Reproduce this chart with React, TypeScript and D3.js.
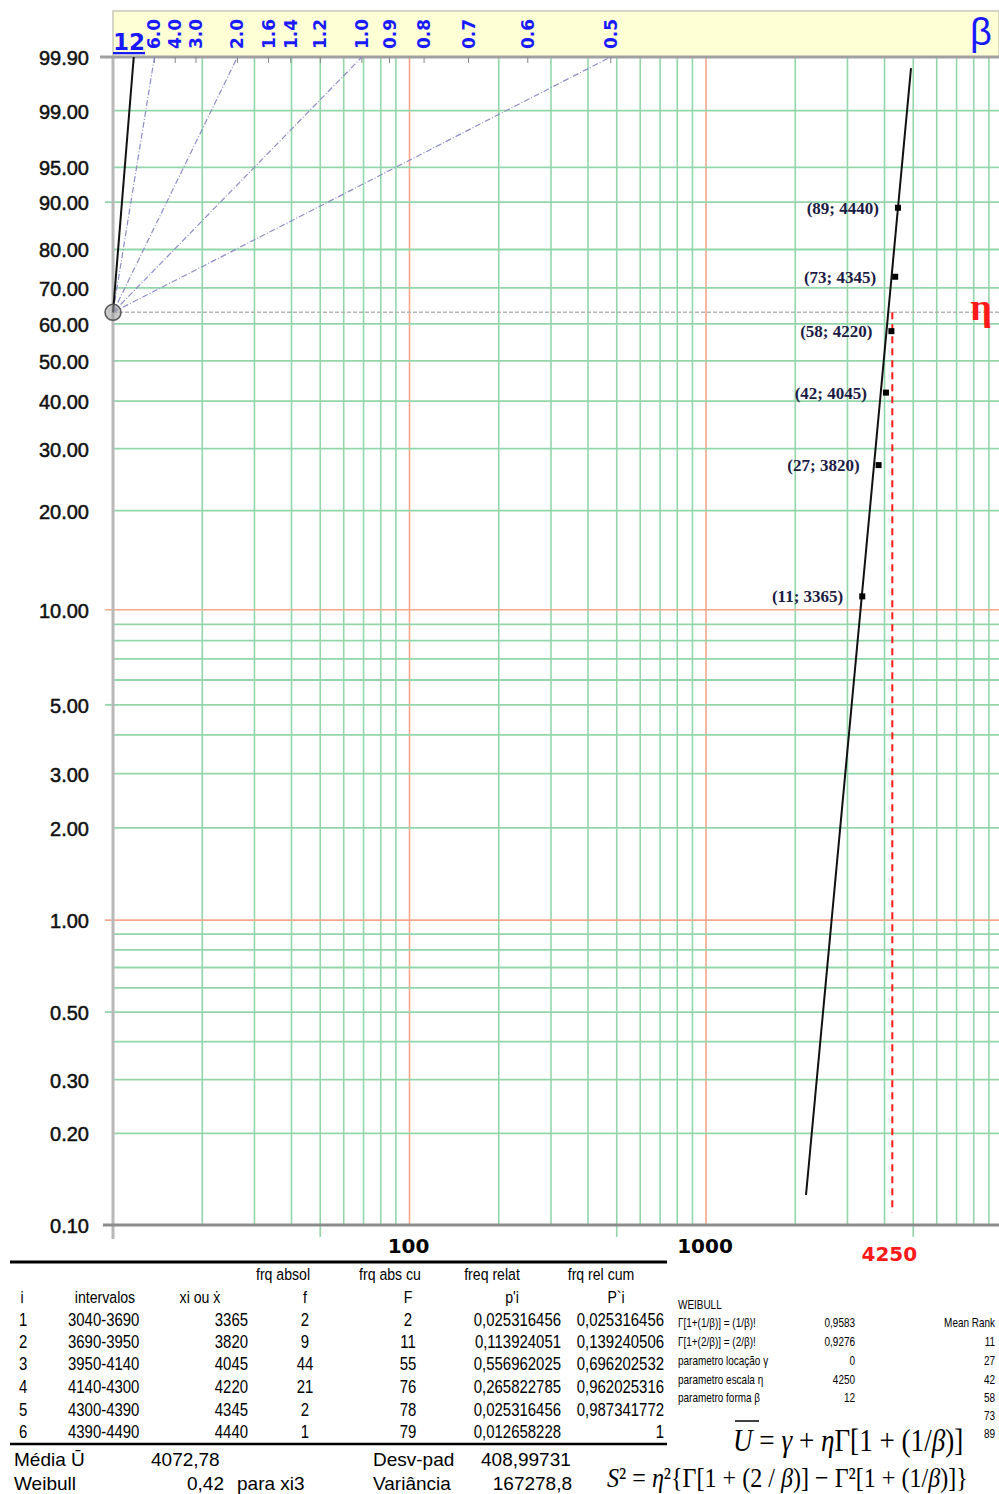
import React from 'react';
import * as d3 from 'd3';

const W = 999;
const H = 1494;

// ---- probability-paper grid definitions ----
const xRedGrid = [100, 1000];
const xGreenGrid = [20, 30, 40, 50, 60, 70, 80, 90, 200, 300, 400, 500, 600, 700, 800, 900, 2000, 3000, 4000, 5000, 6000, 7000, 8000, 9000];
const xTicksBelow = [50, 500, 5000];
const xLabels = [100, 1000];

const yLabelTicks = [99.9, 99, 95, 90, 80, 70, 60, 50, 40, 30, 20, 10, 5, 3, 2, 1, 0.5, 0.3, 0.2, 0.1];
const yLabelText = ['99.90', '99.00', '95.00', '90.00', '80.00', '70.00', '60.00', '50.00', '40.00', '30.00', '20.00', '10.00', '5.00', '3.00', '2.00', '1.00', '0.50', '0.30', '0.20', '0.10'];
const yGreenGrid = [99, 95, 90, 80, 70, 60, 50, 40, 30, 20, 9, 8, 7, 6, 5, 4, 3, 2, 0.9, 0.8, 0.7, 0.6, 0.5, 0.4, 0.3, 0.2];
const yRedGrid = [10, 1];
const yLeftTicks = [90, 5, 0.5];

// ---- beta (shape) scale ----
const betaTicks = [6, 4, 3, 2, 1.6, 1.4, 1.2, 1.0, 0.9, 0.8, 0.7, 0.6, 0.5];
const betaLabels = ['6.0', '4.0', '3.0', '2.0', '1.6', '1.4', '1.2', '1.0', '0.9', '0.8', '0.7', '0.6', '0.5'];
const betaDashed = [6, 2, 1, 0.5];
const betaFit = 12;
const pivotX = 10;
const pivotP = 63.212;

// ---- data ----
const meanRank = [11, 27, 42, 58, 73, 89];
const xiValues = [3365, 3820, 4045, 4220, 4345, 4440];
const eta = 4250;
const etaLineBottomP = 0.11;
const fitLine = [
  { x: 2174, p: 0.1255 },
  { x: 4914, p: 99.826 },
];

// ---- table ----
const rowI = ['1', '2', '3', '4', '5', '6'];
const intervals = ['3040-3690', '3690-3950', '3950-4140', '4140-4300', '4300-4390', '4390-4490'];
const fAbs = [2, 9, 44, 21, 2, 1];
const FCum = [2, 11, 55, 76, 78, 79];
const pRel = ['0,025316456', '0,113924051', '0,556962025', '0,265822785', '0,025316456', '0,012658228'];
const PCum = ['0,025316456', '0,139240506', '0,696202532', '0,962025316', '0,987341772', '1'];

const weibullLabels = ['Γ[1+(1/β)] = (1/β)!', 'Γ[1+(2/β)] = (2/β)!', 'parametro locação γ', 'parametro escala η', 'parametro forma β'];
const weibullValues = ['0,9583', '0,9276', '0', '4250', '12'];

const yt = (p: number) => Math.log(-Math.log(1 - p / 100));

const xScale = d3.scaleLog().domain([10, 10000]).range([113, 1002.5]);
const yScale = d3.scaleLinear().domain([yt(99.9), yt(0.1)]).range([57, 1225]);
const Y = (p: number) => yScale(yt(p));

const betaX = (b: number) => xScale(pivotX * Math.exp(yt(99.9) / b));

const GREEN = '#93d6aa';
const RED = '#f6a68c';
const SANS = "'Liberation Sans', Arial, sans-serif";
const SERIF = "'Liberation Serif', 'Times New Roman', serif";
const DJ = "'DejaVu Sans', Verdana, sans-serif";

const NT = ({ x, y, anchor = 'start', size = 17, children, fill = '#000' }: any) => (
  <text
    transform={`translate(${x},${y}) scale(0.83,1)`}
    textAnchor={anchor}
    fontSize={size}
    fontFamily={SANS}
    fill={fill}
  >
    {children}
  </text>
);

export default function App() {
  const left = xScale(10);
  const right = W;
  const top = Y(99.9);
  const bottom = Y(0.1);
  const px = xScale(pivotX);
  const py = Y(pivotP);

  const rowY = [1320, 1342, 1364, 1387, 1410, 1432];
  const wRowY = [1323, 1342, 1361, 1380, 1398];
  const rankY = [1342, 1361, 1380, 1398, 1416, 1434];

  const fitPath = d3.line<{ x: number; p: number }>()
    .x((d) => xScale(d.x))
    .y((d) => Y(d.p))(fitLine);

  return (
    <svg width={W} height={H} style={{ position: 'absolute', left: 0, top: 0, background: '#fff' }}>
      {/* beta band */}
      <rect x={left} y={11} width={right - left} height={top - 11} fill="#ffffd6" stroke="#c8c8bc" strokeWidth={1.5} />

      {/* vertical grid */}
      {xGreenGrid.map((v) => (
        <line key={'xg' + v} x1={xScale(v)} x2={xScale(v)} y1={top} y2={bottom} stroke={GREEN} strokeWidth={1.6} />
      ))}
      {xRedGrid.map((v) => (
        <line key={'xr' + v} x1={xScale(v)} x2={xScale(v)} y1={top} y2={bottom} stroke={RED} strokeWidth={1.6} />
      ))}
      {xTicksBelow.map((v) => (
        <line key={'xt' + v} x1={xScale(v)} x2={xScale(v)} y1={bottom} y2={bottom + 12} stroke={GREEN} strokeWidth={1.6} />
      ))}

      {/* horizontal grid */}
      {yGreenGrid.map((p) => (
        <line key={'yg' + p} x1={left} x2={right} y1={Y(p)} y2={Y(p)} stroke={GREEN} strokeWidth={1.8} />
      ))}
      {yRedGrid.map((p) => (
        <line key={'yr' + p} x1={left - 8} x2={right} y1={Y(p)} y2={Y(p)} stroke={RED} strokeWidth={1.6} />
      ))}
      {yLeftTicks.map((p) => (
        <line key={'yl' + p} x1={left - 8} x2={left} y1={Y(p)} y2={Y(p)} stroke={GREEN} strokeWidth={1.8} />
      ))}

      {/* 63.2% dotted line */}
      <line x1={left} x2={right} y1={py} y2={py} stroke="#b4b4b4" strokeWidth={1.5} strokeDasharray="4,2" />

      {/* axes */}
      <line x1={left} x2={left} y1={top} y2={bottom + 14} stroke="#b8b8b8" strokeWidth={3} />
      <line x1={left - 13} x2={right} y1={top} y2={top} stroke="#a0a0a0" strokeWidth={3} />
      <line x1={left - 10} x2={right} y1={bottom} y2={bottom} stroke="#8c8c8c" strokeWidth={3} />

      {/* beta tick marks */}
      {[betaFit, ...betaTicks].map((b) => (
        <line key={'bt' + b} x1={betaX(b)} x2={betaX(b)} y1={top} y2={top + 6} stroke="#888" strokeWidth={1} />
      ))}

      {/* beta construction lines */}
      {betaDashed.map((b) => (
        <line key={'bd' + b} x1={px} y1={py} x2={betaX(b)} y2={top} stroke="#8c8cc8" strokeWidth={1.2} strokeDasharray="6,2,1,2" />
      ))}
      <line x1={px} y1={py} x2={betaX(betaFit)} y2={top} stroke="#111" strokeWidth={2} />
      <circle cx={px} cy={py} r={8} fill="#9a9a9a" fillOpacity={0.55} stroke="#555" strokeWidth={1.5} />

      {/* beta labels */}
      <text x={left} y={50} fontSize={23} fontWeight="bold" fontFamily={DJ} fill="#1a1aff" textDecoration="underline">
        12
      </text>
      {betaTicks.map((b, i) => (
        <text
          key={'bl' + b}
          transform={`translate(${betaX(b) + 6},49) rotate(-90)`}
          fontSize={17}
          fontWeight="bold"
          fontFamily={DJ}
          fill="#1a1aff"
        >
          {betaLabels[i]}
        </text>
      ))}
      <text x={981} y={45} fontSize={38} fontFamily={SANS} fill="#1a1aff" textAnchor="middle">β</text>

      {/* eta */}
      <line x1={xScale(eta)} x2={xScale(eta)} y1={py} y2={Y(etaLineBottomP)} stroke="#ff1a1a" strokeWidth={2} strokeDasharray="7,5" />
      <text x={981} y={320} fontSize={38} fontWeight="bold" fontFamily={SERIF} fill="#ff1a1a" textAnchor="middle">η</text>

      {/* fitted line */}
      <path d={fitPath || ''} stroke="#111" strokeWidth={2} fill="none" />

      {/* points */}
      {xiValues.map((v, i) => (
        <g key={'pt' + i}>
          <rect x={xScale(v) - 3} y={Y(meanRank[i]) - 3} width={6} height={6} fill="#000" />
          <text
            x={xScale(v) - 19}
            y={Y(meanRank[i]) + 6}
            fontSize={17}
            fontWeight="bold"
            fontFamily={SERIF}
            fill="#1c1c44"
            textAnchor="end"
          >
            {`(${meanRank[i]}; ${v})`}
          </text>
        </g>
      ))}

      {/* y labels */}
      {yLabelTicks.map((p, i) => (
        <text key={'ylab' + p} x={89} y={Y(p) + 8} fontSize={20} fontFamily={SANS} textAnchor="end" fill="#111" stroke="#111" strokeWidth={0.5}>
          {yLabelText[i]}
        </text>
      ))}

      {/* x labels */}
      {xLabels.map((v) => (
        <text key={'xlab' + v} x={xScale(v) - 1} y={1253} fontSize={20} fontWeight="bold" fontFamily={DJ} textAnchor="middle" fill="#000">
          {v}
        </text>
      ))}
      <text x={xScale(eta) - 3} y={1261} fontSize={20} fontWeight="bold" fontFamily={DJ} textAnchor="middle" fill="#ff1a1a">
        {eta}
      </text>

      {/* ---------- table ---------- */}
      <line x1={10} x2={667} y1={1262} y2={1262} stroke="#000" strokeWidth={3} />
      <line x1={10} x2={667} y1={1444} y2={1444} stroke="#000" strokeWidth={2.5} />

      <NT x={283} y={1280} anchor="middle" size={17}>frq absol</NT>
      <NT x={390} y={1280} anchor="middle" size={17}>frq abs cu</NT>
      <NT x={492} y={1280} anchor="middle" size={17}>freq relat</NT>
      <NT x={601} y={1280} anchor="middle" size={17}>frq rel cum</NT>

      <NT x={22} y={1303} anchor="middle" size={17}>i</NT>
      <NT x={105} y={1303} anchor="middle" size={17}>intervalos</NT>
      <NT x={200} y={1303} anchor="middle" size={17}>xi ou ẋ</NT>
      <NT x={305} y={1303} anchor="middle" size={17}>f</NT>
      <NT x={408} y={1303} anchor="middle" size={17}>F</NT>
      <NT x={512} y={1303} anchor="middle" size={17}>p'i</NT>
      <NT x={616} y={1303} anchor="middle" size={17}>P`i</NT>

      {rowI.map((r, i) => (
        <g key={'row' + i}>
          <NT x={19} y={rowY[i] + 6} size={18}>{r}</NT>
          <NT x={68} y={rowY[i] + 6} size={18}>{intervals[i]}</NT>
          <NT x={248} y={rowY[i] + 6} anchor="end" size={18}>{xiValues[i]}</NT>
          <NT x={305} y={rowY[i] + 6} anchor="middle" size={18}>{fAbs[i]}</NT>
          <NT x={408} y={rowY[i] + 6} anchor="middle" size={18}>{FCum[i]}</NT>
          <NT x={561} y={rowY[i] + 6} anchor="end" size={18}>{pRel[i]}</NT>
          <NT x={664} y={rowY[i] + 6} anchor="end" size={18}>{PCum[i]}</NT>
        </g>
      ))}

      <text x={14} y={1466} fontSize={19} fontFamily={SANS}>Média Ū</text>
      <text x={151} y={1466} fontSize={19} fontFamily={SANS}>4072,78</text>
      <text x={373} y={1466} fontSize={19} fontFamily={SANS}>Desv-pad</text>
      <text x={481} y={1466} fontSize={19} fontFamily={SANS}>408,99731</text>
      <text x={14} y={1490} fontSize={19} fontFamily={SANS}>Weibull</text>
      <text x={224} y={1490} fontSize={19} fontFamily={SANS} textAnchor="end">0,42</text>
      <text x={237} y={1490} fontSize={19} fontFamily={SANS}>para xi3</text>
      <text x={373} y={1490} fontSize={19} fontFamily={SANS}>Variância</text>
      <text x={572} y={1490} fontSize={19} fontFamily={SANS} textAnchor="end">167278,8</text>

      {/* Weibull block */}
      <NT x={678} y={1309} size={12}>WEIBULL</NT>
      {weibullLabels.map((l, i) => (
        <g key={'wb' + i}>
          <NT x={678} y={wRowY[i] + 4} size={12}>{l}</NT>
          <NT x={855} y={wRowY[i] + 4} size={12} anchor="end">{weibullValues[i]}</NT>
        </g>
      ))}
      <NT x={995} y={1327} size={12} anchor="end">Mean Rank</NT>
      {meanRank.map((r, i) => (
        <NT key={'mr' + i} x={995} y={rankY[i] + 4} size={12} anchor="end">{r}</NT>
      ))}

      {/* formulas */}
      <line x1={735} x2={759} y1={1421} y2={1421} stroke="#000" strokeWidth={1.5} />
      <text transform="translate(733,1451) scale(0.875,1)" fontSize={31} fontFamily={SERIF}>
        <tspan fontStyle="italic">U</tspan> = <tspan fontStyle="italic">γ</tspan> + <tspan fontStyle="italic">η</tspan>Γ[1 + (1/<tspan fontStyle="italic">β</tspan>)]
      </text>
      <text transform="translate(607,1487) scale(0.86,1)" fontSize={28} fontFamily={SERIF}>
        <tspan fontStyle="italic">S</tspan>² = <tspan fontStyle="italic">η</tspan>²{'{Γ[1 + (2 / '}<tspan fontStyle="italic">β</tspan>{')] − Γ²[1 + (1/'}<tspan fontStyle="italic">β</tspan>{')]}'}
      </text>
    </svg>
  );
}
